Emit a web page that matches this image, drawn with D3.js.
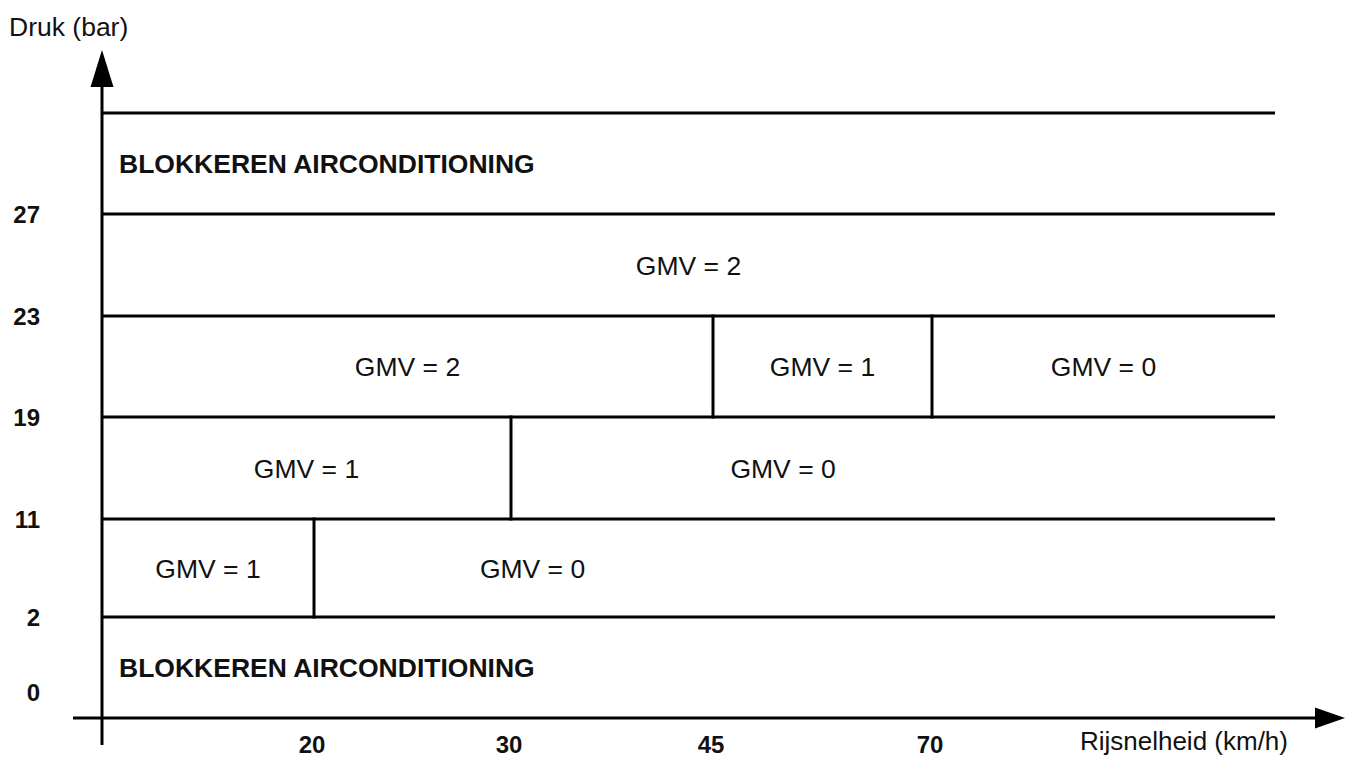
<!DOCTYPE html>
<html>
<head>
<meta charset="utf-8">
<script src="https://cdn.jsdelivr.net/npm/d3@7"></script>
<style>
  body { margin: 0; background: #fff; }
  text { font-family: "Liberation Sans", Arial, sans-serif; fill: #111; }
</style>
</head>
<body>
<svg class="chart"></svg>
<script>
"use strict";
var width = 1345;
var height = 757;

// pressure levels (bar) where the bands change, 31 = top of drawing
var pressureEdges = [2, 11, 19, 23, 27, 31];
var pressureTicks = [0, 2, 11, 19, 23, 27];
// speed breakpoints (km/h), 100 = right end of the bands
var speedTicks = [20, 30, 45, 70];

// vertical separators: speed, lower and upper pressure of the band
var dividers = [
	{speed: 20, lo: 2, hi: 11},
	{speed: 30, lo: 11, hi: 19},
	{speed: 45, lo: 19, hi: 23},
	{speed: 70, lo: 19, hi: 23}
];

// cell labels; "at" is the speed where the text is centred
var cellLabels = [
	{text: "BLOKKEREN AIRCONDITIONING", lo: 27, hi: 31, from: 0, to: 100, bold: true},
	{text: "GMV = 2", lo: 23, hi: 27, from: 0, to: 100},
	{text: "GMV = 2", lo: 19, hi: 23, from: 0, to: 45},
	{text: "GMV = 1", lo: 19, hi: 23, from: 45, to: 70},
	{text: "GMV = 0", lo: 19, hi: 23, from: 70, to: 100},
	{text: "GMV = 1", lo: 11, hi: 19, from: 0, to: 30},
	{text: "GMV = 0", lo: 11, hi: 19, from: 30, to: 100, at: 53},
	{text: "GMV = 1", lo: 2, hi: 11, from: 0, to: 20},
	{text: "GMV = 0", lo: 2, hi: 11, from: 20, to: 100, at: 31.6},
	{text: "BLOKKEREN AIRCONDITIONING", lo: 0, hi: 2, from: 0, to: 100, bold: true}
];

// piecewise scales: the drawing is not proportional
var x = d3.scaleLinear()
	.domain([0, 20, 30, 45, 70, 100])
	.range([102, 314, 511, 713, 932, 1275]);
var y = d3.scaleLinear()
	.domain([0, 2, 11, 19, 23, 27, 31])
	.range([718, 617, 519, 417, 316, 214, 113]);

var svg = d3.select(".chart")
	.attr("width", width)
	.attr("height", height);

// horizontal band lines
svg.selectAll("line.band")
	.data(pressureEdges)
	.enter()
	.append("line")
	.attr("class", "band")
	.attr("x1", x(0))
	.attr("x2", x(100))
	.attr("y1", function(d) { return y(d); })
	.attr("y2", function(d) { return y(d); })
	.attr("stroke", "#000")
	.attr("stroke-width", 3);

// vertical separators
svg.selectAll("line.div")
	.data(dividers)
	.enter()
	.append("line")
	.attr("class", "div")
	.attr("x1", function(d) { return x(d.speed); })
	.attr("x2", function(d) { return x(d.speed); })
	.attr("y1", function(d) { return y(d.lo); })
	.attr("y2", function(d) { return y(d.hi); })
	.attr("stroke", "#000")
	.attr("stroke-width", 3)
	.attr("stroke-linecap", "square");

// axes
svg.append("line")
	.attr("x1", x(0)).attr("x2", x(0))
	.attr("y1", 86).attr("y2", 745)
	.attr("stroke", "#000").attr("stroke-width", 3);
svg.append("path")
	.attr("d", "M" + x(0) + ",50L" + (x(0) - 11.5) + ",87L" + (x(0) + 11.5) + ",87Z")
	.attr("fill", "#000");
svg.append("line")
	.attr("x1", 73).attr("x2", 1316)
	.attr("y1", y(0)).attr("y2", y(0))
	.attr("stroke", "#000").attr("stroke-width", 3);
svg.append("path")
	.attr("d", "M1345," + y(0) + "L1315," + (y(0) - 10.5) + "L1315," + (y(0) + 10.5) + "Z")
	.attr("fill", "#000");

// axis titles
svg.append("text")
	.attr("x", 9).attr("y", 36)
	.attr("font-size", 26.5)
	.text("Druk (bar)");
svg.append("text")
	.attr("x", 1288).attr("y", 750)
	.attr("text-anchor", "end")
	.attr("font-size", 26)
	.text("Rijsnelheid (km/h)");

// tick labels
svg.selectAll("text.ytick")
	.data(pressureTicks)
	.enter()
	.append("text")
	.attr("class", "ytick")
	.attr("x", 40)
	.attr("y", function(d) { return d === 0 ? y(d) - 26 : y(d); })
	.attr("dy", "0.36em")
	.attr("text-anchor", "end")
	.attr("font-size", 24)
	.attr("font-weight", "bold")
	.text(function(d) { return d; });

svg.selectAll("text.xtick")
	.data(speedTicks)
	.enter()
	.append("text")
	.attr("class", "xtick")
	.attr("x", function(d) { return x(d) - 2; })
	.attr("y", 744)
	.attr("dy", "0.36em")
	.attr("text-anchor", "middle")
	.attr("font-size", 24)
	.attr("font-weight", "bold")
	.text(function(d) { return d; });

// cell labels
svg.selectAll("text.cell")
	.data(cellLabels)
	.enter()
	.append("text")
	.attr("class", "cell")
	.attr("x", function(d) {
		if (d.bold) return x(d.from) + 17;
		if (d.at !== undefined) return x(d.at);
		return (x(d.from) + x(d.to)) / 2;
	})
	.attr("y", function(d) { return (y(d.lo) + y(d.hi)) / 2; })
	.attr("dy", "0.36em")
	.attr("text-anchor", function(d) { return d.bold ? "start" : "middle"; })
	.attr("font-size", 26.5)
	.attr("font-weight", function(d) { return d.bold ? "bold" : "normal"; })
	.text(function(d) { return d.text; });
</script>
</body>
</html>
